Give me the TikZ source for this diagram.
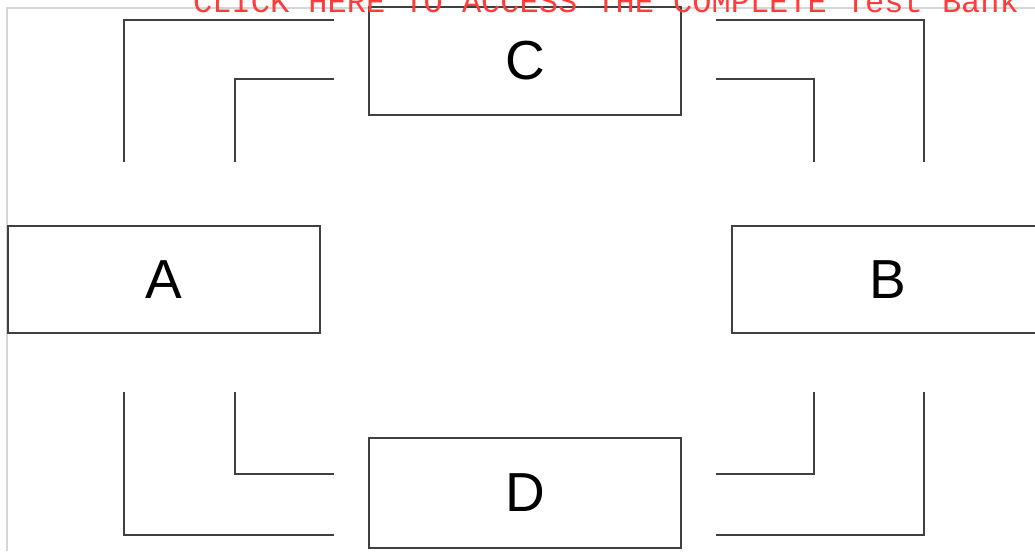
\documentclass[tikz,border=0pt]{standalone}
\usepackage{fontspec}
\setmainfont{Liberation Sans}
\newfontfamily\bannerfont{Liberation Mono}
\usetikzlibrary{positioning}
\definecolor{inkgray}{HTML}{404040}
\definecolor{framegray}{HTML}{D6D6D6}
\definecolor{bannerred}{HTML}{FF3B3B}

\tikzset{
  box/.style={draw=inkgray, line width=2pt, fill=white, inner sep=0pt,
    minimum width=312pt, minimum height=107pt,
    font=\fontsize{55}{60}\selectfont},
  bracket/.style={draw=inkgray, line width=2pt, line join=miter}
}

\begin{document}
\begin{tikzpicture}[x=1pt, y=-1pt]

% Page
\useasboundingbox (0,0) rectangle (1035,551);
\fill[white] (0,0) rectangle (1035,551);

% Frame
\draw[framegray, line width=2pt] (7,551) -- (7,8) -- (1035,8);

% Boxes
\node[box] (C) at (525,61) {C};
\node[box] (A) at (163.5,279.5) {A};
\node[box] (B) at (888,279.5) {B};
\node[box, minimum height=110pt] (D) at (525,493) {D};

% Top-left brackets
\draw[bracket] (124,162) -- (124,20) -- (334,20);
\draw[bracket] (235,162) -- (235,79) -- (334,79);

% Top-right brackets
\draw[bracket] (716,20) -- (924,20) -- (924,162);
\draw[bracket] (716,79) -- (814,79) -- (814,162);

% Bottom-left brackets
\draw[bracket] (124,392) -- (124,535) -- (334,535);
\draw[bracket] (235,392) -- (235,474) -- (334,474);

% Bottom-right brackets
\draw[bracket] (716,535) -- (924,535) -- (924,392);
\draw[bracket] (716,474) -- (814,474) -- (814,392);

% Banner
\node[anchor=base west, inner sep=0pt, text=bannerred,
  font=\bannerfont\fontsize{32}{34}\selectfont] (banner) at (193,13)
  {CLICK HERE TO ACCESS THE COMPLETE Test Bank};

\end{tikzpicture}
\end{document}
